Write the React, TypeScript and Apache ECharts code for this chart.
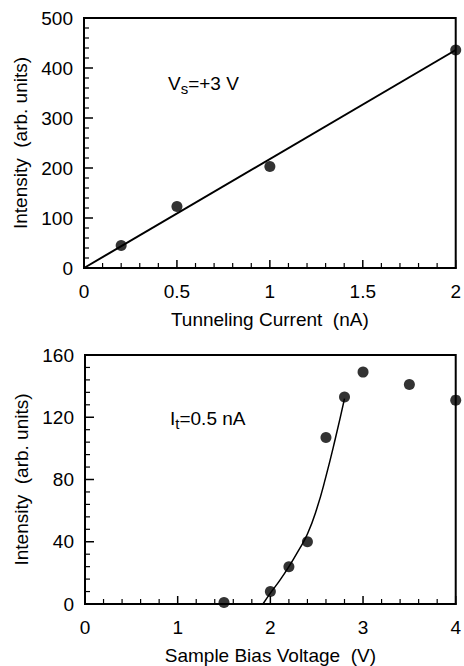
import React, { useEffect, useRef } from "react";
import * as echarts from "echarts";

// Top panel: intensity vs tunneling current (Vs = +3 V)
const currentX = [0.2, 0.5, 1.0, 2.0];
const currentIntensity = [45, 123, 203, 436];
const fitLineTop = [
  [0, 0],
  [2.0, 436],
];

// Bottom panel: intensity vs sample bias voltage (It = 0.5 nA)
const biasX = [1.5, 2.0, 2.2, 2.4, 2.6, 2.8, 3.0, 3.5, 4.0];
const biasIntensity = [1, 8, 24, 40, 107, 133, 149, 141, 131];
const fitCurveBottom = [
  [1.92, 0],
  [2.0, 7],
  [2.1, 15],
  [2.2, 24],
  [2.3, 34],
  [2.4, 45],
  [2.5, 61],
  [2.6, 82],
  [2.7, 106],
  [2.8, 132],
];

// Axis tick values
const topXMajor = [0, 0.5, 1, 1.5, 2];
const topXMinor = [0.1, 0.2, 0.3, 0.4, 0.6, 0.7, 0.8, 0.9, 1.1, 1.2, 1.3, 1.4, 1.6, 1.7, 1.8, 1.9];
const topYMajor = [0, 100, 200, 300, 400, 500];
const topYMinor = [20, 40, 60, 80, 120, 140, 160, 180, 220, 240, 260, 280, 320, 340, 360, 380, 420, 440, 460, 480];
const botXMajor = [0, 1, 2, 3, 4];
const botXMinor = [0.2, 0.4, 0.6, 0.8, 1.2, 1.4, 1.6, 1.8, 2.2, 2.4, 2.6, 2.8, 3.2, 3.4, 3.6, 3.8];
const botYMajor = [0, 40, 80, 120, 160];
const botYMinor = [8, 16, 24, 32, 48, 56, 64, 72, 88, 96, 104, 112, 128, 136, 144, 152];

const FONT = "Liberation Sans, Arial, sans-serif";

function tickSeries(idx: number, xMaj: number[], xMin: number[], yMaj: number[], yMin: number[], y0: number, x0: number) {
  return {
    type: "custom",
    xAxisIndex: idx,
    yAxisIndex: idx,
    silent: true,
    clip: false,
    z: 5,
    data: [[x0, y0]],
    renderItem: (_p: any, api: any) => {
      const children: any[] = [];
      const xt = (v: number, len: number, w: number) => {
        const p = api.coord([v, y0]);
        children.push({
          type: "line",
          shape: { x1: p[0], y1: p[1], x2: p[0], y2: p[1] - len },
          style: { stroke: "#000", lineWidth: w },
        });
      };
      const yt = (v: number, len: number, w: number) => {
        const p = api.coord([x0, v]);
        children.push({
          type: "line",
          shape: { x1: p[0], y1: p[1], x2: p[0] + len, y2: p[1] },
          style: { stroke: "#000", lineWidth: w },
        });
      };
      xMaj.forEach((v) => xt(v, 8, 1.5));
      xMin.forEach((v) => xt(v, 5, 1.2));
      yMaj.forEach((v) => yt(v, 9, 1.5));
      yMin.forEach((v) => yt(v, 5, 1.2));
      return { type: "group", children };
    },
  };
}

export default function App() {
  const ref = useRef<HTMLDivElement>(null);
  useEffect(() => {
    if (!ref.current) return;
    const chart = echarts.init(ref.current, undefined, { renderer: "svg" });
    const mkX = (idx: number, min: number, max: number, interval: number, name: string) => ({
      type: "value",
      gridIndex: idx,
      min,
      max,
      interval,
      name,
      nameLocation: "middle",
      nameGap: 42,
      nameTextStyle: { color: "#000", fontSize: 19, fontFamily: FONT },
      axisLine: { show: true, lineStyle: { color: "#000", width: 2 } },
      axisTick: { show: false },
      splitLine: { show: false },
      axisLabel: { color: "#000", fontSize: 19, fontFamily: FONT, margin: 14, showMaxLabel: true },
    });
    const mkY = (idx: number, min: number, max: number, interval: number) => ({
      type: "value",
      gridIndex: idx,
      min,
      max,
      interval,
      name: "Intensity  (arb. units)",
      nameLocation: "middle",
      nameGap: 46,
      nameTextStyle: { color: "#000", fontSize: 19, fontFamily: FONT },
      axisLine: { show: true, lineStyle: { color: "#000", width: 2 } },
      axisTick: { show: false },
      splitLine: { show: false },
      axisLabel: { color: "#000", fontSize: 19, fontFamily: FONT, margin: 11 },
    });
    const rich = {
      a: { fontSize: 19, fontFamily: FONT, fill: "#000" },
      b: { fontSize: 15, fontFamily: FONT, fill: "#000", padding: [10, 0, 0, 0] },
    };
    chart.setOption({
      animation: false,
      grid: [
        { left: 84, right: 4, top: 18, height: 250, show: true, borderColor: "#000", borderWidth: 2 },
        { left: 85, right: 4, top: 355, height: 250, show: true, borderColor: "#000", borderWidth: 2 },
      ],
      xAxis: [
        mkX(0, 0, 2, 0.5, "Tunneling Current  (nA)"),
        mkX(1, 0, 4, 1, "Sample Bias Voltage  (V)"),
      ],
      yAxis: [mkY(0, 0, 500, 100), mkY(1, 0, 160, 40)],
      graphic: [
        { type: "text", left: 168, top: 74, style: { text: "{a|V}{b|s}{a|=+3 V}", rich } },
        { type: "text", left: 170, top: 409, style: { text: "{a|I}{b|t}{a|=0.5 nA}", rich } },
      ],
      series: [
        tickSeries(0, topXMajor, topXMinor, topYMajor, topYMinor, 0, 0),
        tickSeries(1, botXMajor, botXMinor, botYMajor, botYMinor, 0, 0),
        {
          type: "line",
          xAxisIndex: 0,
          yAxisIndex: 0,
          data: fitLineTop,
          showSymbol: false,
          lineStyle: { color: "#000", width: 2 },
        },
        {
          type: "scatter",
          xAxisIndex: 0,
          yAxisIndex: 0,
          data: currentX.map((x, i) => [x, currentIntensity[i]]),
          symbolSize: 11,
          itemStyle: { color: "#000" },
        },
        {
          type: "line",
          xAxisIndex: 1,
          yAxisIndex: 1,
          data: fitCurveBottom,
          smooth: 0.5,
          showSymbol: false,
          lineStyle: { color: "#000", width: 1.5 },
        },
        {
          type: "scatter",
          xAxisIndex: 1,
          yAxisIndex: 1,
          data: biasX.map((x, i) => [x, biasIntensity[i]]),
          symbolSize: 11,
          itemStyle: { color: "#000" },
        },
      ],
    });
    return () => chart.dispose();
  }, []);
  return <div ref={ref} style={{ width: 464, height: 666, position: "absolute", left: 0, top: 0, background: "#fff" }} />;
}
